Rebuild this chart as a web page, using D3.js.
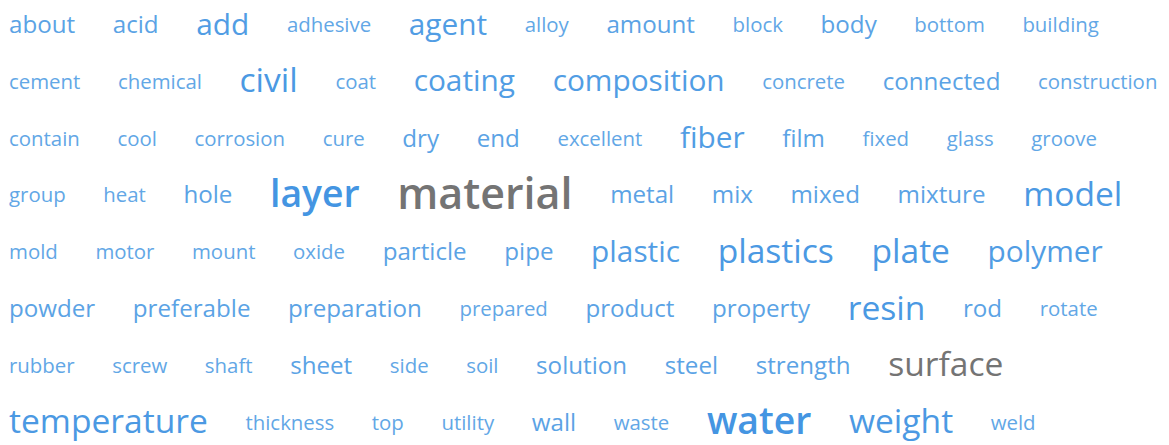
<!DOCTYPE html>
<html>
<head>
<meta charset="utf-8">
<script src="https://cdn.jsdelivr.net/npm/d3@7"></script>
<style>
body { margin: 0; background: #fff; }
svg { display: block; }
text { font-family: "Open Sans", sans-serif; }
</style>
</head>
<body>
<svg width="1169" height="445"></svg>
<script>
// tag cloud, words in alphabetical order, size ~ frequency
var words = [
    "about", "acid", "add", "adhesive", "agent", "alloy", "amount", "block", "body", "bottom", "building",
    "cement", "chemical", "civil", "coat", "coating", "composition", "concrete", "connected", "construction",
    "contain", "cool", "corrosion", "cure", "dry", "end", "excellent", "fiber", "film", "fixed", "glass", "groove",
    "group", "heat", "hole", "layer", "material", "metal", "mix", "mixed", "mixture", "model",
    "mold", "motor", "mount", "oxide", "particle", "pipe", "plastic", "plastics", "plate", "polymer",
    "powder", "preferable", "preparation", "prepared", "product", "property", "resin", "rod", "rotate",
    "rubber", "screw", "shaft", "sheet", "side", "soil", "solution", "steel", "strength", "surface",
    "temperature", "thickness", "top", "utility", "wall", "waste", "water", "weight", "weld"
];

var counts = [
    4, 4, 7, 2, 7, 2, 4, 2, 4, 2, 2,
    2, 2, 9, 2, 7, 7, 2, 4, 2,
    2, 2, 2, 2, 4, 4, 2, 7, 4, 2, 2, 2,
    2, 2, 4, 11, 14, 4, 4, 4, 4, 9,
    2, 2, 2, 2, 4, 4, 7, 9, 9, 7,
    4, 4, 4, 2, 4, 4, 9, 4, 2,
    2, 2, 2, 4, 2, 2, 4, 4, 4, 9,
    9, 2, 2, 2, 4, 2, 11, 9, 2
];

var grayWords = ["material", "surface"];

var svg = d3.select("svg");
var width = +svg.attr("width");
var height = +svg.attr("height");

var data = words.map(function(w, i) { return {word: w, count: counts[i]}; });

var size = d3.scaleLinear()
    .domain(d3.extent(counts))
    .range([20.4, 43]);

var color = d3.scaleLinear()
    .domain(d3.extent(counts))
    .range(["#62a7e6", "#3a8fe0"]);

var gap = 37.6;
var left = 9;
var rowTop = 26.5;
var rowStep = 56.8;

var g = svg.append("g").attr("class", "cloud");

var text = g.selectAll("text")
    .data(data)
    .enter().append("text")
    .text(function(d) { return d.word; })
    .style("font-size", function(d) { return size(d.count) + "px"; })
    .style("font-weight", function(d) { return d.count >= 11 ? 600 : 400; })
    .attr("fill", function(d) {
        return grayWords.indexOf(d.word) >= 0 ? "#747474" : color(d.count);
    });

// simple flow layout, wrap when the next word would not fit
var x = left, row = 0;
text.each(function(d) {
    var w = this.getComputedTextLength();
    if (x > left && x + w > width + 4) {
        row++;
        x = left;
    }
    d.x = x;
    d.row = row;
    x += w + gap;
});

text
    .attr("x", function(d) { return d.x; })
    .attr("y", function(d) { return rowTop + d.row * rowStep + 0.27 * size(d.count); });
</script>
</body>
</html>
